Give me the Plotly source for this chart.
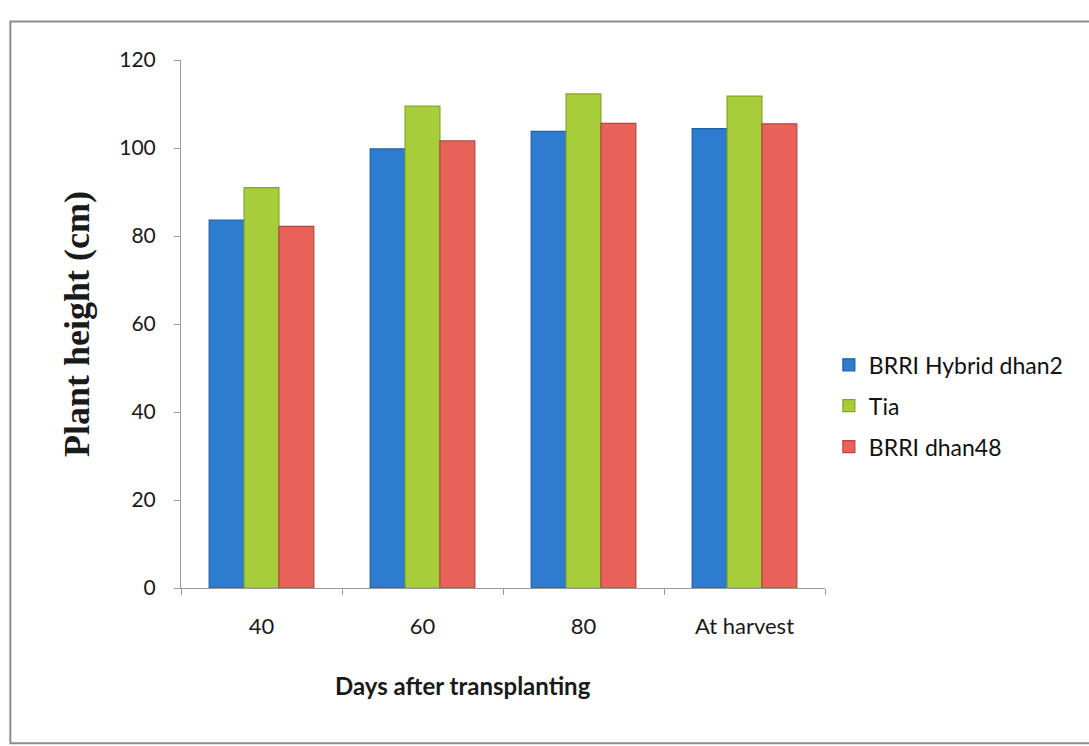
import plotly.graph_objects as go

# Plant height of three rice varieties at successive growth stages
stages = ["40", "60", "80", "At harvest"]
hybrid_dhan2 = [83.6, 99.8, 103.8, 104.4]
tia = [91.0, 109.5, 112.3, 111.8]
dhan48 = [82.2, 101.6, 105.6, 105.5]

series = [
    ("BRRI Hybrid dhan2", hybrid_dhan2, "#2d7ccf", "#1f5fa3"),
    ("Tia", tia, "#a8cd3a", "#82a52a"),
    ("BRRI dhan48", dhan48, "#e8625a", "#b5463f"),
]

fig = go.Figure()
for i, (name, vals, fill, edge) in enumerate(series):
    fig.add_trace(go.Bar(
        x=stages, y=vals, name=name, legendgroup=f"g{i}",
        marker=dict(color=fill, line=dict(color=edge, width=1.2)),
    ))

font_body = "Lato, 'Open Sans', sans-serif"

fig.update_layout(
    width=1089, height=746,
    margin=dict(l=181, r=264, t=60, b=158),
    paper_bgcolor="white", plot_bgcolor="white",
    barmode="group", bargap=0.35, bargroupgap=0.0,
    font=dict(family=font_body, size=22, color="#1a1a1a"),
    showlegend=True,
    legend=dict(
        x=1.006, y=0.345, xanchor="left", yanchor="middle",
        font=dict(family=font_body, size=23, color="#111111"),
        tracegroupgap=8, itemwidth=30,
        bgcolor="rgba(0,0,0,0)",
    ),
    xaxis=dict(
        showline=True, linecolor="#9a9a9a", linewidth=1,
        ticks="outside", tickson="boundaries", ticklen=6, tickcolor="#9a9a9a",
        ticklabelstandoff=19,
        tickfont=dict(size=22),
        showgrid=False,
    ),
    yaxis=dict(
        range=[0, 120], dtick=20, tick0=0,
        showline=True, linecolor="#9a9a9a", linewidth=1,
        ticks="outside", ticklen=6, tickcolor="#9a9a9a",
        ticklabelstandoff=14,
        tickfont=dict(size=21),
        showgrid=False, zeroline=False,
        title=dict(text="<b>Plant height (cm)</b>", standoff=18,
                   font=dict(family="'Liberation Serif', 'Times New Roman', serif", size=36)),
    ),
)

# x-axis caption, set a little left of the plot centre
fig.add_annotation(
    text="<b>Days after transplanting</b>", xref="paper", yref="paper",
    x=0.438, y=-0.184, xanchor="center", yanchor="middle", showarrow=False,
    font=dict(family=font_body, size=24, color="#1a1a1a"),
)

# outer chart frame
fig.add_shape(type="rect", xref="paper", yref="paper",
              x0=-0.265, x1=1.43, y0=-0.294, y1=1.073,
              line=dict(color="#8c8c8c", width=2), fillcolor="rgba(0,0,0,0)", layer="below")

fig.write_html("out.html")
